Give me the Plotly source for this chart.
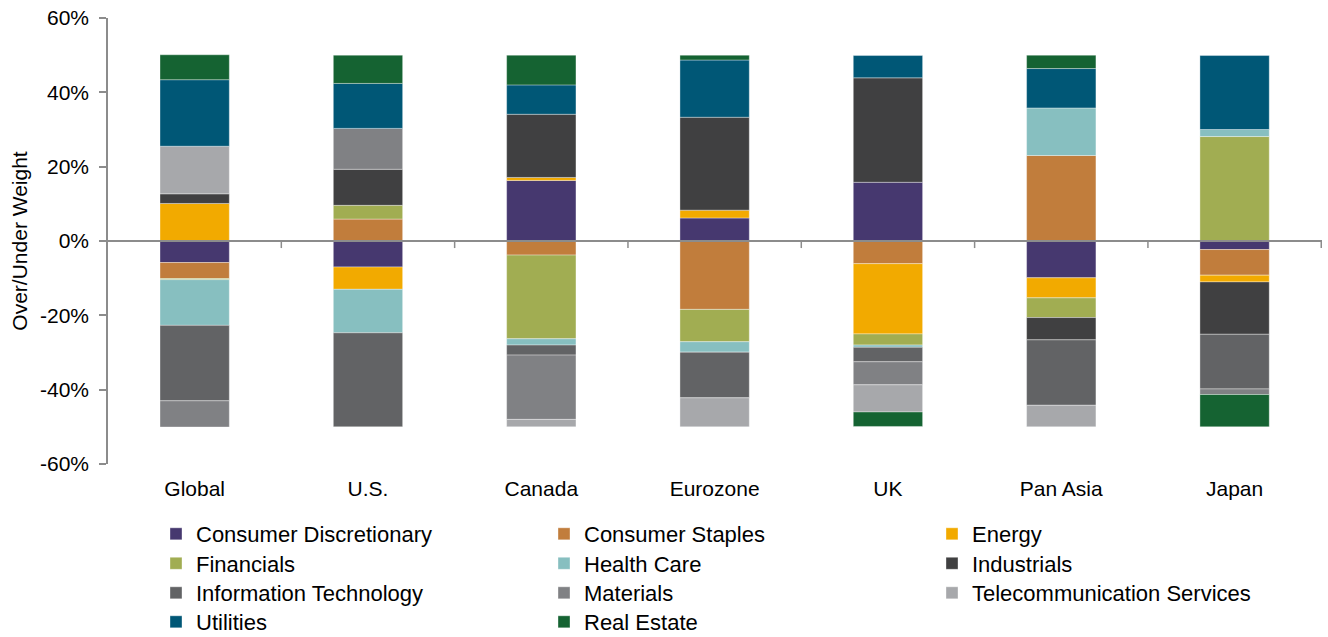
import plotly.graph_objects as go

categories = ["Global", "U.S.", "Canada", "Eurozone", "UK", "Pan Asia", "Japan"]

consumer_discretionary = [-5.8, -7.0, 16.3, 6.2, 15.8, -9.9, -2.3]
consumer_staples = [-4.3, 5.9, -3.8, -18.4, -6.1, 23.0, -6.9]
energy = [10.1, -6.0, 0.8, 2.1, -18.9, -5.4, -1.8]
financials = [-0.3, 3.7, -22.5, -8.7, -3.0, -5.3, 28.1]
health_care = [-12.3, -11.7, -1.7, -2.8, -0.6, 12.8, 1.9]
industrials = [2.6, 9.7, 17.0, 25.0, 28.1, -6.0, -14.1]
information_technology = [-20.3, -25.3, -2.7, -12.3, -3.9, -17.6, -14.7]
materials = [-7.05, 11.0, -17.3, None, -6.2, None, -1.5]
telecommunication_services = [12.8, None, -2.0, -7.8, -7.3, -5.8, None]
utilities = [17.9, 12.1, 7.9, 15.4, 6.0, 10.6, 19.9]
real_estate = [6.7, 7.6, 8.0, 1.3, -3.9, 3.6, -8.7]

series_names = ["Consumer Discretionary", "Consumer Staples", "Energy", "Financials",
                "Health Care", "Industrials", "Information Technology", "Materials",
                "Telecommunication Services", "Utilities", "Real Estate"]
series_values = [consumer_discretionary, consumer_staples, energy, financials,
                 health_care, industrials, information_technology, materials,
                 telecommunication_services, utilities, real_estate]
series_colors = ["#46386F", "#C17D3C", "#F2AA00", "#A1AD52", "#87BFC0", "#404041",
                 "#626365", "#808184", "#A7A8AB", "#005776", "#156332"]

y_ticks = [-60, -40, -20, 0, 20, 40, 60]
y_ticktext = ["-60%", "-40%", "-20%", "0%", "20%", "40%", "60%"]

FONT = "Arial, 'Liberation Sans', sans-serif"
AXIS_GRAY = "#8C8C8C"

# figure geometry (page body margin removed below)
FIG_W, FIG_H = 1328, 637
M_L, M_R, M_T, M_B = 108, 6, 18, 173
PLOT_W = FIG_W - M_L - M_R
PLOT_H = FIG_H - M_T - M_B
PLOT_BOTTOM = FIG_H - M_B

# legend grid: 3 columns x 4 rows (pixel positions)
col_x = [156, 544, 932]
row_c = [535, 564.5, 594, 623]

fig = go.Figure()
layout_legends = {}
for k, (name, vals, color) in enumerate(zip(series_names, series_values, series_colors)):
    leg_id = "legend" if k == 0 else f"legend{k + 1}"
    fig.add_trace(go.Bar(
        name=name, x=categories, y=vals, legend=leg_id,
        marker=dict(color=color, line=dict(color="rgba(255,255,255,0.45)", width=0.8)),
    ))
    r, c = divmod(k, 3)
    layout_legends[leg_id] = dict(
        x=(col_x[c] - M_L) / PLOT_W, xanchor="left",
        y=(PLOT_BOTTOM - (row_c[r] - 22)) / PLOT_H, yanchor="top",
        orientation="v",
        font=dict(family=FONT, size=22, color="#000000"),
        itemclick=False, bgcolor="rgba(0,0,0,0)",
    )

# zero line drawn above bars, with tick marks at category boundaries
shapes = [dict(type="line", xref="paper", yref="y", x0=0, x1=1, y0=0, y1=0,
               line=dict(color=AXIS_GRAY, width=2), layer="above")]
for i in range(len(categories)):
    shapes.append(dict(type="line", xref="x", yref="y", x0=i + 0.5, x1=i + 0.5,
                       y0=0, y1=-1.9, line=dict(color=AXIS_GRAY, width=1.5), layer="above"))

fig.update_layout(
    width=FIG_W, height=FIG_H, autosize=False,
    margin=dict(l=M_L, r=M_R, t=M_T, b=M_B, autoexpand=False),
    barmode="relative", bargap=0.6,
    plot_bgcolor="white", paper_bgcolor="white",
    font=dict(family=FONT, size=21, color="#000000"),
    showlegend=True,
    shapes=shapes,
    **layout_legends,
)
fig.update_xaxes(
    type="category", showline=False, showgrid=False, zeroline=False,
    ticks="", tickfont=dict(family=FONT, size=21, color="#000000"),
    ticklabelstandoff=10,
)
fig.update_yaxes(
    range=[-60, 60], tickvals=y_ticks, ticktext=y_ticktext,
    showgrid=False, zeroline=False,
    showline=True, linecolor=AXIS_GRAY, linewidth=1.5,
    ticks="outside", ticklen=7, tickcolor=AXIS_GRAY, tickwidth=1.5,
    tickfont=dict(family=FONT, size=21, color="#000000"),
    ticklabelstandoff=6, ticklabeloverflow="allow",
    title=dict(text="Over/Under Weight", font=dict(family=FONT, size=21, color="#000000"), standoff=7),
)

fig.write_html(
    "out.html",
    config={"displayModeBar": False},
    post_script="document.body.style.margin='0';document.body.style.overflow='hidden';",
)
